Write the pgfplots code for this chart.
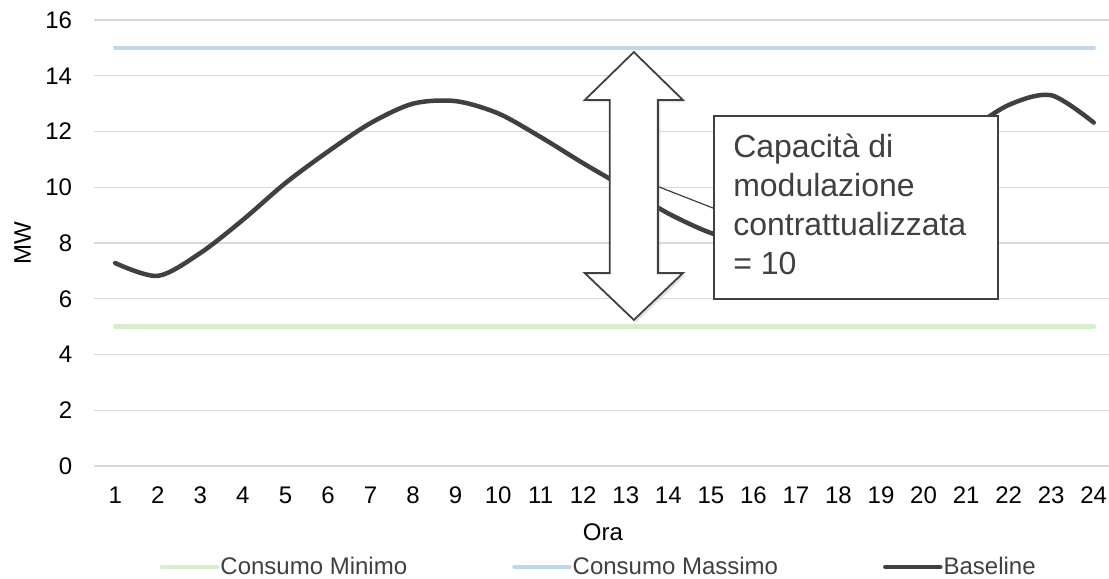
\documentclass[border=0pt]{standalone}
\usepackage{fontspec}
\setmainfont{Liberation Sans}
\usepackage{pgfplots}
\pgfplotsset{compat=1.18}
\usetikzlibrary{shadows}
\definecolor{cmin}{HTML}{D5EECB}
\definecolor{cmax}{HTML}{BDD7EE}
\definecolor{cbase}{HTML}{404040}
\definecolor{cgrid}{HTML}{D9D9D9}
\definecolor{ctext}{HTML}{404040}
\begin{document}
\begin{tikzpicture}
\useasboundingbox (-47bp,-56.5bp) rectangle (507.5bp,233bp);
\begin{axis}[
  at={(0,0)}, anchor=south west,
  scale only axis, width=510.5bp, height=223bp,
  xmin=0.5, xmax=24.5, ymin=0, ymax=16,
  xtick={1,...,24}, ytick={0,2,...,16},
  major tick length=0pt,
  axis line style={draw=none},
  ymajorgrids, grid style={cgrid, line width=0.6bp},
  /pgf/number format/assume math mode=true,
  tick label style={font=\fontsize{12bp}{14bp}\selectfont, text=black},
  xticklabel style={anchor=center, yshift=-14.5bp},
  yticklabel style={anchor=east, inner xsep=0pt, xshift=-10.75bp},
  xlabel={Ora}, ylabel={MW},
  label style={font=\fontsize{12bp}{14bp}\selectfont},
  xlabel style={at={(axis description cs:0.4985,-0.148)}, anchor=center},
  ylabel style={at={(axis description cs:-0.070,0.5)}, anchor=center},
  legend columns=3,
  legend style={at={(axis description cs:0.0646,-0.2265)}, anchor=west, draw=none, fill=none,
    inner sep=0pt, outer sep=0pt, font=\fontsize{12bp}{14bp}\selectfont, text=ctext,
    nodes={inner xsep=0.5bp, inner ysep=0pt},
    /tikz/every even column/.append style={column sep=52bp}},
  legend image code/.code={\draw[#1, line cap=round] (0bp,0bp) -- (27.5bp,0bp);},
  clip=false,
]
\addplot[cmin, line width=2.25bp, line cap=round] coordinates {
(1,5)(2,5)(3,5)(4,5)(5,5)(6,5)(7,5)(8,5)(9,5)(10,5)(11,5)(12,5)
(13,5)(14,5)(15,5)(16,5)(17,5)(18,5)(19,5)(20,5)(21,5)(22,5)(23,5)(24,5)};
\addlegendentry{Consumo Minimo}
\addplot[cmax, line width=2.25bp, line cap=round] coordinates {
(1,15)(2,15)(3,15)(4,15)(5,15)(6,15)(7,15)(8,15)(9,15)(10,15)(11,15)(12,15)
(13,15)(14,15)(15,15)(16,15)(17,15)(18,15)(19,15)(20,15)(21,15)(22,15)(23,15)(24,15)};
\addlegendentry{Consumo Massimo}
\addplot[cbase, line width=2.25bp, line cap=round, smooth] coordinates {
(1,7.28)(2,6.82)(3,7.64)(4,8.83)(5,10.15)(6,11.28)(7,12.30)(8,13.00)
(9,13.09)(10,12.65)(11,11.80)(12,10.86)(13,9.97)(14,9.06)(15,8.36)(16,7.95)
(17,7.95)(18,8.45)(19,9.45)(20,10.75)(21,11.95)(22,12.95)(23,13.30)(24,12.32)};
\addlegendentry{Baseline}
\draw[ctext, line width=0.6bp] (axis cs:15.05,9.255) -- (axis cs:13.33,10.28);
\draw[fill=white, draw=ctext, line width=0.75bp] (axis cs:15.07,12.556) rectangle (axis cs:21.75,5.991);
\node[anchor=north west, inner sep=0pt, align=left, text=ctext,
  font=\fontsize{16bp}{19.35bp}\selectfont] at (axis cs:15.518,11.91)
  {Capacità di\\modulazione\\contrattualizzata\\= 10};
\draw[fill=white, draw=ctext, line width=0.9bp, line join=miter,
  drop shadow={shadow xshift=1.2bp, shadow yshift=-1.2bp, opacity=0.22}]
  (axis cs:13.19,14.85) -- (axis cs:14.343,13.13) -- (axis cs:13.755,13.13)
  -- (axis cs:13.755,6.92) -- (axis cs:14.343,6.92) -- (axis cs:13.19,5.24)
  -- (axis cs:12.037,6.92) -- (axis cs:12.625,6.92) -- (axis cs:12.625,13.13)
  -- (axis cs:12.037,13.13) -- cycle;
\end{axis}
\end{tikzpicture}
\end{document}
